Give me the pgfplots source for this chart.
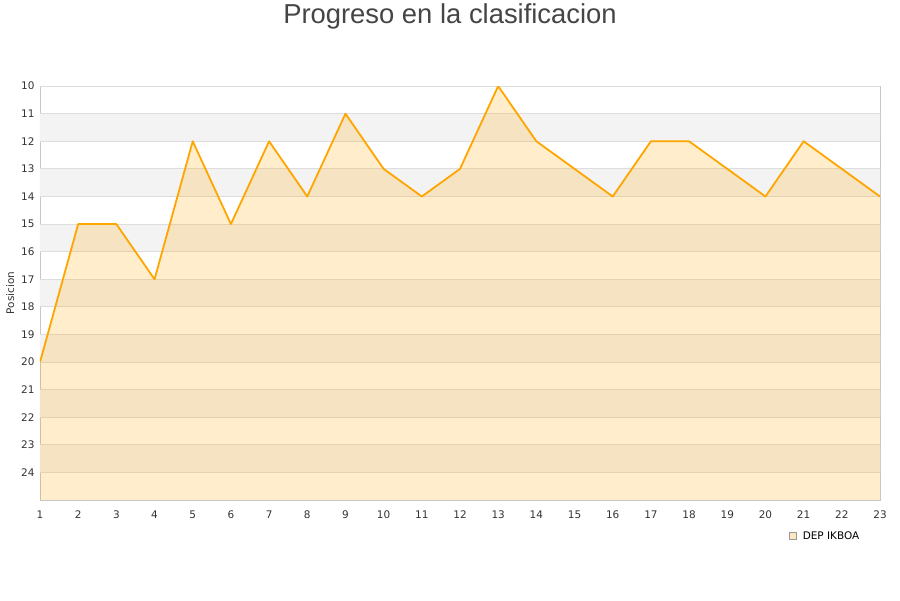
\documentclass[border=0pt]{standalone}
\usepackage{pgfplots}
\usepackage{pgfplotstable}
\pgfplotsset{compat=1.18}
\usepackage{fontspec}
\setmainfont{DejaVu Sans}
\newfontfamily\titlefont{Liberation Sans}
\definecolor{lineor}{HTML}{FFA500}
\definecolor{gridc}{HTML}{DDDDDD}
\definecolor{bandc}{HTML}{F3F3F3}
\definecolor{txt}{HTML}{333333}
\pgfplotstableread{
x y
1 20
2 15
3 15
4 17
5 12
6 15
7 12
8 14
9 11
10 13
11 14
12 13
13 10
14 12
15 13
16 14
17 12
18 12
19 13
20 14
21 12
22 13
23 14
}\datatable
\pgfplotstableread{
x y
1 25
1 20
2 15
3 15
4 17
5 12
6 15
7 12
8 14
9 11
10 13
11 14
12 13
13 10
14 12
15 13
16 14
17 12
18 12
19 13
20 14
21 12
22 13
23 14
23 25
}\filltable
\begin{document}
\begin{tikzpicture}
\begin{axis}[
  at={(0,0)}, anchor=south west,
  scale only axis, width=840bp, height=414bp,
  xmin=1, xmax=23, ymin=10, ymax=25,
  y dir=reverse,
  xtick={1,...,23}, ytick={10,...,24},
  axis line style={gridc!90!black, line width=0.8pt},
  tick style={draw=none},
  /pgf/number format/assume math mode=true,
  ticklabel style={font=\fontsize{10.5}{12}\selectfont, text=txt},
  xticklabel style={yshift=-7bp},
  yticklabel style={xshift=-2bp},
  ylabel={Posicion},
  ylabel style={font=\fontsize{10.5}{12}\selectfont, text=txt, xshift=0bp},
  legend style={at={(0.8917,-0.087)}, anchor=west, draw=none, fill=none, font=\fontsize{10.5}{12}\selectfont, inner sep=0pt, nodes={inner xsep=6bp}},
]
\addplot[fill=bandc, draw=none, forget plot] coordinates {(1,11) (23,11) (23,12) (1,12) (1,11)};
\addplot[fill=bandc, draw=none, forget plot] coordinates {(1,13) (23,13) (23,14) (1,14) (1,13)};
\addplot[fill=bandc, draw=none, forget plot] coordinates {(1,15) (23,15) (23,16) (1,16) (1,15)};
\addplot[fill=bandc, draw=none, forget plot] coordinates {(1,17) (23,17) (23,18) (1,18) (1,17)};
\addplot[fill=bandc, draw=none, forget plot] coordinates {(1,19) (23,19) (23,20) (1,20) (1,19)};
\addplot[fill=bandc, draw=none, forget plot] coordinates {(1,21) (23,21) (23,22) (1,22) (1,21)};
\addplot[fill=bandc, draw=none, forget plot] coordinates {(1,23) (23,23) (23,24) (1,24) (1,23)};
\pgfplotsinvokeforeach{10,...,24}{
  \addplot[gridc, line width=0.8pt, forget plot] coordinates {(1,#1) (23,#1)};
}
\addplot[draw=none, fill=lineor, fill opacity=0.2, forget plot] table[x=x,y=y] {\filltable};
\addplot[lineor, line width=1.8pt, line join=round, no marks,
  legend image code/.code={\draw[draw=gray!80, fill=lineor!25, line width=0.6pt] (0bp,-3.5bp) rectangle (7bp,3.5bp);}]
  table[x=x,y=y] {\datatable};
\addlegendentry{DEP IKBOA}
\end{axis}
\node[font=\titlefont\fontsize{27.5}{32}\selectfont, text=black!73] at (410bp,484bp) {Progreso en la clasificacion};
\path (-40bp,-100bp) rectangle (860bp,500bp);
\end{tikzpicture}
\end{document}
